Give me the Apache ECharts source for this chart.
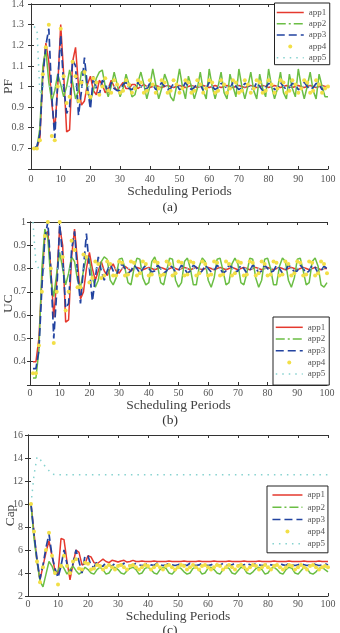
<!DOCTYPE html>
<html>
<head>
<meta charset="utf-8">
<script src="https://cdn.jsdelivr.net/npm/echarts@6/dist/echarts.min.js"></script>
<style>
  html, body { margin: 0; padding: 0; background: #fff; }
  #chart { width: 340px; height: 633px; }
</style>
</head>
<body>
<div id="chart"></div>
<script>
// scheduling periods 1..100
const periods = [
  1, 2, 3, 4, 5, 6, 7, 8, 9, 10, 11, 12, 13, 14, 15, 16, 17, 18, 19, 20,
  21, 22, 23, 24, 25, 26, 27, 28, 29, 30, 31, 32, 33, 34, 35, 36, 37, 38, 39, 40,
  41, 42, 43, 44, 45, 46, 47, 48, 49, 50, 51, 52, 53, 54, 55, 56, 57, 58, 59, 60,
  61, 62, 63, 64, 65, 66, 67, 68, 69, 70, 71, 72, 73, 74, 75, 76, 77, 78, 79, 80,
  81, 82, 83, 84, 85, 86, 87, 88, 89, 90, 91, 92, 93, 94, 95, 96, 97, 98, 99, 100
];
const appNames = ["app1", "app2", "app3", "app4", "app5"];

// (a) PF
const pfApp1 = [
  0.70, 0.70, 0.75, 1.06, 1.21, 1.12, 0.92, 0.79, 1.00, 1.30,
  1.06, 0.78, 0.79, 1.12, 1.19, 1.00, 0.91, 0.93, 1.01, 1.05,
  0.98, 0.96, 1.03, 1.01, 0.97, 0.99, 1.03, 1.00, 0.98, 1.00,
  1.02, 0.99, 0.99, 1.01, 1.01, 0.99, 1.00, 1.01, 1.00, 0.995,
  1.00, 1.005, 1.00, 0.995, 1.00, 1.005, 1.00, 0.995, 1.00, 1.005,
  1.00, 0.995, 1.00, 1.005, 1.00, 0.995, 1.00, 1.005, 1.00, 0.995,
  1.00, 1.005, 1.00, 0.995, 1.00, 1.005, 1.00, 0.995, 1.00, 1.005,
  1.00, 0.995, 1.00, 1.005, 1.00, 0.995, 1.00, 1.005, 1.00, 0.995,
  1.00, 1.005, 1.00, 0.995, 1.00, 1.005, 1.00, 0.995, 1.00, 1.005,
  1.00, 0.995, 1.00, 1.005, 1.00, 0.995, 1.00, 1.005, 1.00, 1.00
];
const pfApp2 = [
  0.70, 0.70, 0.80, 1.10, 1.18, 1.02, 0.93, 0.98, 1.06, 1.01,
  0.95, 1.00, 1.08, 1.02, 0.94, 0.98, 1.07, 1.08, 0.98, 0.93,
  0.98, 1.04, 1.07, 1.08, 1.00, 0.95, 1.00, 1.07, 1.01, 0.95,
  0.99, 1.06, 1.01, 0.95, 0.96, 1.02, 1.07, 1.01, 0.94, 1.00,
  1.085, 1.01, 0.94, 0.99, 1.06, 1.02, 0.95, 0.93, 1.00, 1.085,
  1.00, 0.94, 1.05, 1.00, 0.94, 0.99, 1.07, 0.98, 0.94, 1.085,
  1.00, 0.94, 1.00, 1.07, 0.97, 0.94, 1.06, 1.00, 0.95, 1.085,
  1.00, 0.94, 1.00, 1.07, 0.98, 0.94, 1.06, 0.99, 0.95, 1.085,
  1.00, 0.94, 0.99, 1.07, 0.97, 0.94, 1.06, 0.99, 0.95, 1.085,
  1.00, 0.94, 1.00, 1.07, 0.98, 0.94, 1.06, 1.00, 0.95, 0.95
];
const pfApp3 = [
  0.70, 0.71, 0.77, 1.05, 1.20, 1.28, 0.95, 0.75, 1.02, 1.25,
  1.00, 0.87, 0.90, 1.13, 1.10, 0.86, 0.98, 1.14, 1.00, 0.89,
  1.05, 0.99, 0.96, 1.03, 1.01, 0.97, 1.02, 0.99, 0.98, 0.98,
  1.01, 1.02, 0.99, 0.985, 1.00, 1.02, 1.00, 0.985, 0.99, 1.015,
  1.01, 0.985, 0.995, 1.02, 1.00, 0.985, 0.99, 1.015, 1.01, 0.985,
  0.99, 1.02, 1.00, 0.985, 0.995, 1.015, 1.01, 0.98, 0.99, 1.02,
  1.00, 0.985, 0.995, 1.015, 1.01, 0.985, 0.99, 1.02, 1.00, 0.985,
  0.995, 1.015, 1.01, 0.985, 0.99, 1.02, 1.00, 0.98, 0.995, 1.015,
  1.01, 0.985, 0.99, 1.02, 1.00, 0.985, 0.995, 1.015, 1.01, 0.985,
  0.99, 1.02, 1.00, 0.985, 0.995, 1.015, 1.01, 0.985, 0.99, 1.00
];
const pfApp4 = [
  0.70, 0.70, 0.74, 1.06, 1.19, 1.30, 0.76, 0.74, 1.00, 1.28,
  1.05, 0.92, 0.95, 1.12, 1.05, 0.93, 1.02, 1.07, 0.97, 0.95,
  1.04, 1.02, 0.96, 1.00, 1.04, 0.98, 0.97, 1.03, 1.01, 0.97,
  0.98, 1.03, 1.01, 0.97, 0.99, 1.03, 1.02, 0.97, 0.98, 1.03,
  1.01, 0.97, 0.99, 1.03, 1.02, 0.97, 0.98, 1.03, 1.01, 0.97,
  0.99, 1.03, 1.02, 0.97, 0.98, 1.03, 1.01, 0.97, 0.99, 1.03,
  1.02, 0.97, 0.98, 1.03, 1.01, 0.97, 0.99, 1.03, 1.02, 0.97,
  0.98, 1.03, 1.01, 0.97, 0.99, 1.03, 1.02, 0.97, 0.98, 1.03,
  1.01, 0.97, 0.99, 1.03, 1.02, 0.97, 0.98, 1.03, 1.01, 0.97,
  0.99, 1.03, 1.02, 0.97, 0.98, 1.03, 1.01, 0.97, 0.99, 1.00
];
const pfApp5 = [
  1.29, 1.28, 0.96, 1.00, 1.00, 1.00, 1.00, 1.00, 1.00, 1.00,
  1.00, 1.00, 1.00, 1.00, 1.00, 1.00, 1.00, 1.00, 1.00, 1.00,
  1.00, 1.00, 1.00, 1.00, 1.00, 1.00, 1.00, 1.00, 1.00, 1.00,
  1.00, 1.00, 1.00, 1.00, 1.00, 1.00, 1.00, 1.00, 1.00, 1.00,
  1.00, 1.00, 1.00, 1.00, 1.00, 1.00, 1.00, 1.00, 1.00, 1.00,
  1.00, 1.00, 1.00, 1.00, 1.00, 1.00, 1.00, 1.00, 1.00, 1.00,
  1.00, 1.00, 1.00, 1.00, 1.00, 1.00, 1.00, 1.00, 1.00, 1.00,
  1.00, 1.00, 1.00, 1.00, 1.00, 1.00, 1.00, 1.00, 1.00, 1.00,
  1.00, 1.00, 1.00, 1.00, 1.00, 1.00, 1.00, 1.00, 1.00, 1.00,
  1.00, 1.00, 1.00, 1.00, 1.00, 1.00, 1.00, 1.00, 1.00, 1.00
];

// (b) UC
const ucApp1 = [
  0.40, 0.40, 0.50, 0.75, 0.94, 0.96, 0.80, 0.59, 0.75, 0.98,
  0.90, 0.57, 0.58, 0.85, 0.97, 0.83, 0.67, 0.70, 0.80, 0.87,
  0.80, 0.75, 0.79, 0.83, 0.79, 0.77, 0.80, 0.82, 0.79, 0.78,
  0.80, 0.81, 0.80, 0.79, 0.80, 0.805, 0.80, 0.795, 0.80, 0.805,
  0.80, 0.795, 0.80, 0.805, 0.80, 0.795, 0.80, 0.805, 0.80, 0.795,
  0.80, 0.805, 0.80, 0.795, 0.80, 0.805, 0.80, 0.795, 0.80, 0.805,
  0.80, 0.795, 0.80, 0.805, 0.80, 0.795, 0.80, 0.805, 0.80, 0.795,
  0.80, 0.805, 0.80, 0.795, 0.80, 0.805, 0.80, 0.795, 0.80, 0.805,
  0.80, 0.795, 0.80, 0.805, 0.80, 0.795, 0.80, 0.805, 0.80, 0.795,
  0.80, 0.805, 0.80, 0.795, 0.80, 0.805, 0.80, 0.795, 0.80, 0.80
];
const ucApp2 = [
  0.33, 0.33, 0.45, 0.80, 0.97, 0.93, 0.75, 0.68, 0.78, 0.87,
  0.80, 0.73, 0.78, 0.85, 0.83, 0.75, 0.72, 0.79, 0.85, 0.84,
  0.76, 0.72, 0.75, 0.83, 0.85, 0.84, 0.75, 0.73, 0.76, 0.84,
  0.845, 0.80, 0.74, 0.73, 0.80, 0.845, 0.84, 0.76, 0.73, 0.74,
  0.83, 0.85, 0.81, 0.74, 0.73, 0.79, 0.845, 0.84, 0.75, 0.72,
  0.74, 0.83, 0.845, 0.80, 0.73, 0.73, 0.81, 0.845, 0.83, 0.75,
  0.72, 0.76, 0.84, 0.845, 0.79, 0.73, 0.74, 0.82, 0.845, 0.82,
  0.74, 0.73, 0.78, 0.845, 0.84, 0.76, 0.72, 0.75, 0.84, 0.845,
  0.80, 0.73, 0.73, 0.81, 0.845, 0.83, 0.75, 0.72, 0.76, 0.84,
  0.845, 0.79, 0.73, 0.74, 0.83, 0.845, 0.81, 0.73, 0.72, 0.74
];
const ucApp3 = [
  0.37, 0.37, 0.45, 0.72, 0.93, 1.00, 0.80, 0.50, 0.70, 0.99,
  0.85, 0.63, 0.65, 0.88, 0.96, 0.78, 0.65, 0.80, 0.95, 0.80,
  0.66, 0.76, 0.85, 0.79, 0.75, 0.79, 0.82, 0.79, 0.77, 0.80,
  0.82, 0.80, 0.78, 0.79, 0.815, 0.80, 0.78, 0.80, 0.815, 0.80,
  0.785, 0.79, 0.815, 0.80, 0.78, 0.79, 0.815, 0.805, 0.785, 0.79,
  0.815, 0.80, 0.78, 0.79, 0.815, 0.805, 0.78, 0.79, 0.815, 0.80,
  0.785, 0.79, 0.815, 0.80, 0.78, 0.79, 0.815, 0.805, 0.785, 0.79,
  0.815, 0.80, 0.78, 0.79, 0.815, 0.805, 0.78, 0.79, 0.815, 0.80,
  0.785, 0.79, 0.815, 0.80, 0.78, 0.79, 0.815, 0.805, 0.785, 0.79,
  0.815, 0.80, 0.78, 0.79, 0.815, 0.805, 0.78, 0.79, 0.81, 0.80
];
const ucApp4 = [
  0.35, 0.35, 0.47, 0.70, 0.94, 1.00, 0.80, 0.48, 0.70, 1.00,
  0.85, 0.62, 0.70, 0.92, 0.88, 0.72, 0.72, 0.86, 0.85, 0.74,
  0.76, 0.83, 0.82, 0.76, 0.77, 0.83, 0.82, 0.77, 0.77, 0.83,
  0.825, 0.77, 0.775, 0.83, 0.825, 0.77, 0.78, 0.83, 0.82, 0.77,
  0.775, 0.83, 0.825, 0.77, 0.775, 0.83, 0.82, 0.77, 0.78, 0.83,
  0.825, 0.77, 0.775, 0.83, 0.825, 0.77, 0.78, 0.83, 0.82, 0.77,
  0.775, 0.83, 0.825, 0.77, 0.775, 0.83, 0.82, 0.77, 0.78, 0.83,
  0.825, 0.77, 0.775, 0.83, 0.825, 0.77, 0.78, 0.83, 0.82, 0.77,
  0.775, 0.83, 0.825, 0.77, 0.775, 0.83, 0.82, 0.77, 0.78, 0.83,
  0.825, 0.77, 0.775, 0.83, 0.825, 0.77, 0.78, 0.83, 0.82, 0.78
];
const ucApp5 = [
  1.00, 0.82, 0.80, 0.80, 0.80, 0.80, 0.80, 0.80, 0.80, 0.80,
  0.80, 0.80, 0.80, 0.80, 0.80, 0.80, 0.80, 0.80, 0.80, 0.80,
  0.80, 0.80, 0.80, 0.80, 0.80, 0.80, 0.80, 0.80, 0.80, 0.80,
  0.80, 0.80, 0.80, 0.80, 0.80, 0.80, 0.80, 0.80, 0.80, 0.80,
  0.80, 0.80, 0.80, 0.80, 0.80, 0.80, 0.80, 0.80, 0.80, 0.80,
  0.80, 0.80, 0.80, 0.80, 0.80, 0.80, 0.80, 0.80, 0.80, 0.80,
  0.80, 0.80, 0.80, 0.80, 0.80, 0.80, 0.80, 0.80, 0.80, 0.80,
  0.80, 0.80, 0.80, 0.80, 0.80, 0.80, 0.80, 0.80, 0.80, 0.80,
  0.80, 0.80, 0.80, 0.80, 0.80, 0.80, 0.80, 0.80, 0.80, 0.80,
  0.80, 0.80, 0.80, 0.80, 0.80, 0.80, 0.80, 0.80, 0.80, 0.80
];

// (c) Cap
const capApp1 = [
  10.0, 7.5, 5.0, 3.4, 4.6, 5.8, 6.8, 5.5, 4.2, 3.9,
  7.0, 6.9, 5.0, 3.4, 4.8, 6.0, 5.8, 4.7, 4.8, 5.5,
  5.4, 4.9, 4.8, 5.0, 5.2, 5.0, 4.9, 5.1, 5.05, 4.95,
  5.05, 5.1, 4.95, 5.0, 5.1, 5.0, 5.0, 5.05, 5.0, 5.0,
  5.0, 5.05, 5.0, 5.0, 5.0, 5.0, 5.05, 5.0, 5.0, 5.0,
  5.0, 5.05, 5.0, 5.0, 5.0, 5.0, 5.05, 5.0, 5.0, 5.0,
  5.0, 5.05, 5.0, 5.0, 5.0, 5.0, 5.05, 5.0, 5.0, 5.0,
  5.0, 5.05, 5.0, 5.0, 5.0, 5.0, 5.05, 5.0, 5.0, 5.0,
  5.0, 5.05, 5.0, 5.0, 5.0, 5.0, 5.05, 5.0, 5.0, 5.0,
  5.0, 5.05, 5.0, 5.0, 5.0, 5.0, 5.05, 5.0, 5.0, 5.0
];
const capApp2 = [
  10.0, 7.0, 5.0, 3.3, 2.8, 3.9, 5.0, 4.6, 3.9, 4.2,
  4.8, 4.4, 3.9, 4.3, 4.6, 4.2, 3.9, 4.1, 4.5, 4.3,
  4.0, 3.9, 4.3, 4.5, 4.3, 3.9, 4.0, 4.4, 4.5, 4.3,
  4.0, 3.9, 4.2, 4.4, 4.5, 4.3, 3.9, 4.0, 4.4, 4.5,
  4.3, 4.0, 3.9, 4.3, 4.5, 4.4, 4.0, 3.9, 4.2, 4.5,
  4.4, 4.1, 3.9, 4.0, 4.4, 4.5, 4.3, 3.9, 4.0, 4.4,
  4.5, 4.3, 4.0, 3.9, 4.3, 4.5, 4.4, 4.0, 3.9, 4.2,
  4.5, 4.4, 4.0, 3.9, 4.1, 4.4, 4.5, 4.3, 3.9, 4.0,
  4.4, 4.5, 4.3, 4.0, 3.9, 4.3, 4.5, 4.4, 4.0, 3.9,
  4.2, 4.5, 4.4, 4.0, 3.9, 4.1, 4.4, 4.5, 4.3, 4.1
];
const capApp3 = [
  10.0, 7.4, 5.2, 3.5, 4.7, 6.2, 7.4, 5.5, 4.4, 3.6,
  4.6, 6.0, 4.8, 3.9, 4.8, 6.0, 5.0, 4.0, 5.5, 5.5,
  4.6, 4.5, 5.0, 4.6, 4.6, 4.9, 4.7, 4.6, 4.85, 4.7,
  4.65, 4.85, 4.7, 4.65, 4.7, 4.85, 4.7, 4.65, 4.7, 4.85,
  4.7, 4.65, 4.85, 4.7, 4.65, 4.7, 4.85, 4.7, 4.65, 4.7,
  4.85, 4.7, 4.65, 4.85, 4.7, 4.65, 4.7, 4.85, 4.7, 4.65,
  4.7, 4.85, 4.7, 4.65, 4.85, 4.7, 4.65, 4.7, 4.85, 4.7,
  4.65, 4.7, 4.85, 4.7, 4.65, 4.85, 4.7, 4.65, 4.7, 4.85,
  4.7, 4.65, 4.7, 4.85, 4.7, 4.65, 4.85, 4.7, 4.65, 4.7,
  4.85, 4.7, 4.65, 4.7, 4.85, 4.7, 4.65, 4.7, 4.8, 4.7
];
const capApp4 = [
  10.0, 7.6, 5.0, 3.2, 4.5, 6.0, 7.5, 5.5, 4.0, 3.0,
  4.6, 5.5, 4.6, 4.0, 5.0, 5.2, 4.4, 4.3, 4.9, 4.8,
  4.3, 4.4, 4.7, 4.6, 4.3, 4.5, 4.7, 4.5, 4.3, 4.6,
  4.7, 4.5, 4.3, 4.6, 4.7, 4.5, 4.3, 4.5, 4.7, 4.6,
  4.3, 4.5, 4.7, 4.5, 4.3, 4.6, 4.7, 4.5, 4.3, 4.5,
  4.7, 4.6, 4.3, 4.5, 4.7, 4.5, 4.3, 4.6, 4.7, 4.5,
  4.3, 4.5, 4.7, 4.6, 4.3, 4.5, 4.7, 4.5, 4.3, 4.6,
  4.7, 4.5, 4.3, 4.5, 4.7, 4.6, 4.3, 4.5, 4.7, 4.5,
  4.3, 4.6, 4.7, 4.5, 4.3, 4.5, 4.7, 4.6, 4.3, 4.5,
  4.7, 4.5, 4.3, 4.6, 4.7, 4.5, 4.3, 4.5, 4.6, 4.5
];
const capApp5 = [
  10.0, 12.5, 14.1, 13.9, 13.5, 13.2, 12.9, 12.6, 12.55, 12.55,
  12.55, 12.55, 12.55, 12.55, 12.55, 12.55, 12.55, 12.55, 12.55, 12.55,
  12.55, 12.55, 12.55, 12.55, 12.55, 12.55, 12.55, 12.55, 12.55, 12.55,
  12.55, 12.55, 12.55, 12.55, 12.55, 12.55, 12.55, 12.55, 12.55, 12.55,
  12.55, 12.55, 12.55, 12.55, 12.55, 12.55, 12.55, 12.55, 12.55, 12.55,
  12.55, 12.55, 12.55, 12.55, 12.55, 12.55, 12.55, 12.55, 12.55, 12.55,
  12.55, 12.55, 12.55, 12.55, 12.55, 12.55, 12.55, 12.55, 12.55, 12.55,
  12.55, 12.55, 12.55, 12.55, 12.55, 12.55, 12.55, 12.55, 12.55, 12.55,
  12.55, 12.55, 12.55, 12.55, 12.55, 12.55, 12.55, 12.55, 12.55, 12.55,
  12.55, 12.55, 12.55, 12.55, 12.55, 12.55, 12.55, 12.55, 12.55, 12.55
];

const fontFamily = '"Liberation Serif", "Times New Roman", serif';
const appColors = ["#e5392e", "#6bbe44", "#2243a0", "#f2df47", "#85d2cf"];

// one entry per sub figure
const panels = [
  {
    axisName: "PF", values: [pfApp1, pfApp2, pfApp3, pfApp4, pfApp5],
    min: 0.6, max: 1.4, step: 0.1, showMin: false,
    grid: { left: 31, top: 4, width: 297, height: 165 },
    xNameGap: 14, yNameGap: 16, xLabelMargin: 5, yLabelMargin: 7,
    legend: { left: 274.5, top: 3, padding: [5, 3.5, 2.5, 1.5], itemGap: 2.3, itemWidth: 27 },
    caption: "(a)", captionTop: 200,
  },
  {
    axisName: "UC", values: [ucApp1, ucApp2, ucApp3, ucApp4, ucApp5],
    min: 0.3, max: 1, step: 0.1, showMin: false,
    grid: { left: 30, top: 222, width: 297, height: 163 },
    xNameGap: 11, yNameGap: 15, xLabelMargin: 3, yLabelMargin: 4,
    legend: { left: 273, top: 317, padding: [5.8, 4, 6.5, 2], itemGap: 2.7, itemWidth: 27 },
    caption: "(b)", captionTop: 413,
  },
  {
    axisName: "Cap", values: [capApp1, capApp2, capApp3, capApp4, capApp5],
    min: 2, max: 16, step: 2, showMin: true,
    grid: { left: 28, top: 435, width: 300, height: 161 },
    xNameGap: 10, yNameGap: 11, xLabelMargin: 3, yLabelMargin: 5,
    legend: { left: 267, top: 486, padding: [4.5, 3, 4.5, 4.7], itemGap: 3.2, itemWidth: 30 },
    caption: "(c)", captionTop: 623,
  },
];

function lineFor(i) {
  const c = appColors[i];
  if (i === 0) return { symbol: "none", lineStyle: { color: c, width: 1.5 } };
  if (i === 1) return { symbol: "none", lineStyle: { color: c, width: 1.5 } };
  if (i === 2) return { symbol: "none", lineStyle: { color: c, width: 1.7, type: [8, 4] } };
  if (i === 3) return {
    symbol: "circle", symbolSize: 4, showSymbol: true,
    itemStyle: { color: c, borderWidth: 0 },
    lineStyle: { color: c, width: 0, opacity: 0 },
  };
  return { symbol: "none", lineStyle: { color: c, width: 1.5, type: [1.5, 5] } };
}

const frameColor = "#333";
const grid = [], xAxis = [], yAxis = [], series = [], legend = [], title = [];

panels.forEach((p, g) => {
  grid.push(Object.assign({ containLabel: false, outerBoundsMode: "none" }, p.grid));
  const tick = { show: true, inside: true, length: 3, lineStyle: { color: frameColor } };
  const line = { show: true, lineStyle: { color: frameColor, width: 1 } };
  // bottom + top x axes
  xAxis.push({
    gridIndex: g, type: "value", min: 0, max: 100, interval: 10, position: "bottom",
    axisLine: line, axisTick: tick, splitLine: { show: false },
    axisLabel: { color: "#555", fontSize: 10, fontFamily, margin: p.xLabelMargin },
    name: "Scheduling Periods", nameLocation: "middle", nameGap: p.xNameGap,
    nameTextStyle: { color: "#444", fontSize: 13.5, fontFamily },
  });
  xAxis.push({
    gridIndex: g, type: "value", min: 0, max: 100, interval: 10, position: "top",
    axisLine: line, axisTick: tick, splitLine: { show: false }, axisLabel: { show: false },
  });
  // left + right y axes
  yAxis.push({
    gridIndex: g, type: "value", min: p.min, max: p.max, interval: p.step, position: "left",
    axisLine: line, axisTick: tick, splitLine: { show: false },
    axisLabel: { color: "#555", fontSize: 10, fontFamily, margin: p.yLabelMargin, showMinLabel: p.showMin },
    name: p.axisName, nameLocation: "middle", nameGap: p.yNameGap, nameMoveOverlap: false,
    nameTextStyle: { color: "#444", fontSize: 13.5, fontFamily },
  });
  yAxis.push({
    gridIndex: g, type: "value", min: p.min, max: p.max, interval: p.step, position: "right",
    axisLine: line, axisTick: tick, splitLine: { show: false }, axisLabel: { show: false },
  });

  p.values.forEach((vals, i) => {
    series.push(Object.assign({
      name: appNames[i], type: "line",
      xAxisIndex: g * 2, yAxisIndex: g * 2,
      data: periods.map((x, k) => [x, vals[k]]),
      animation: false, silent: true,
    }, lineFor(i)));
  });

  legend.push({
    orient: "vertical", left: p.legend.left, top: p.legend.top,
    padding: p.legend.padding, itemGap: p.legend.itemGap,
    itemWidth: p.legend.itemWidth, itemHeight: 5,
    backgroundColor: "#fff", borderColor: "#222", borderWidth: 1, borderRadius: 0,
    selectedMode: false,
    textStyle: { color: "#555", fontSize: 9, lineHeight: 9, fontFamily },
    lineStyle: { width: 1.5 },
    data: [
      { name: "app1", itemStyle: { opacity: 0 } },
      { name: "app2", itemStyle: { opacity: 0 }, lineStyle: { type: [9, 3, 2, 3] } },
      { name: "app3", itemStyle: { opacity: 0 } },
      { name: "app4", itemStyle: { borderWidth: 0 }, lineStyle: { width: 0, opacity: 0, color: "rgba(0,0,0,0)" } },
      { name: "app5", itemStyle: { opacity: 0 } },
    ],
  });

  title.push({
    text: p.caption, left: "center", top: p.captionTop, padding: 0,
    textStyle: { color: "#333", fontSize: 13.5, fontWeight: "normal", fontFamily },
  });
});

const chart = echarts.init(document.getElementById("chart"));
chart.setOption({
  backgroundColor: "#fff",
  animation: false,
  title, grid, xAxis, yAxis, legend, series,
});
</script>
</body>
</html>
